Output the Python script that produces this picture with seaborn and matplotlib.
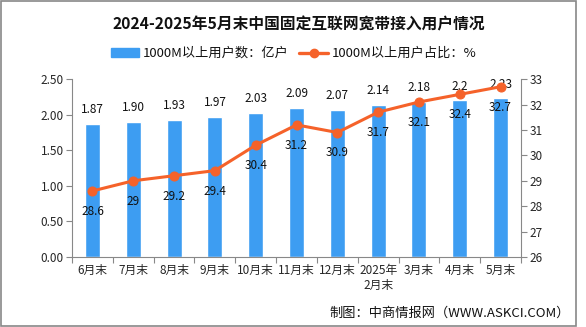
import matplotlib
matplotlib.use("Agg")
import matplotlib.pyplot as plt
import seaborn as sns
import pandas as pd
import numpy as np
from matplotlib.patches import Rectangle
from matplotlib.lines import Line2D

categories = ["6月末", "7月末", "8月末", "9月末", "10月末", "11月末", "12月末", "2025年\n2月末", "3月末", "4月末", "5月末"]
users = [1.87, 1.90, 1.93, 1.97, 2.03, 2.09, 2.07, 2.14, 2.18, 2.2, 2.23]
user_labels = ["1.87", "1.90", "1.93", "1.97", "2.03", "2.09", "2.07", "2.14", "2.18", "2.2", "2.23"]
share = [28.6, 29, 29.2, 29.4, 30.4, 31.2, 30.9, 31.7, 32.1, 32.4, 32.7]
share_labels = ["28.6", "29", "29.2", "29.4", "30.4", "31.2", "30.9", "31.7", "32.1", "32.4", "32.7"]

sns.set_theme(style="white")
plt.rcParams['font.family'] = ['Noto Sans CJK SC', 'DejaVu Sans']

BLUE = "#3d9df2"
ORANGE = "#f5622a"

fig = plt.figure(figsize=(5.86, 3.27), dpi=100)
ax = fig.add_axes([0.123, 0.214, 0.766, 0.544])

df = pd.DataFrame({"cat": categories, "users": users, "share": share})
sns.barplot(data=df, x="cat", y="users", color=BLUE, width=0.37, ax=ax, saturation=1)
ax.set_ylim(0, 2.5)
ax.set_yticks(np.arange(0, 2.51, 0.5))
ax.set_yticklabels([f"{v:.2f}" for v in np.arange(0, 2.51, 0.5)], fontsize=8.5)
ax.set_xlim(-0.5, len(categories) - 0.5)
ax.set_xlabel("")
ax.set_ylabel("")
ax.tick_params(axis="x", length=0, labelsize=8.5, pad=5)
ax.tick_params(axis="y", length=4, width=0.8, color="#888888", direction="out", left=True, pad=2)
ax.set_xticks(range(len(categories)))
ax.set_xticks(np.arange(-0.5, len(categories), 1), minor=True)
ax.tick_params(axis="x", which="minor", length=4, width=0.8, color="#888888", bottom=True)
for s in ["left", "bottom"]:
    ax.spines[s].set_color("#888888")
    ax.spines[s].set_linewidth(0.8)
ax.spines["top"].set_visible(False)
ax.spines["right"].set_visible(False)

for i, (v, lab) in enumerate(zip(users, user_labels)):
    ax.text(i, v + 0.11, lab, ha="center", va="bottom", fontsize=8.5, color="#111111")

ax2 = ax.twinx()
sns.lineplot(x=list(range(len(categories))), y=share, ax=ax2, color=ORANGE, linewidth=2.2,
             marker="o", markersize=6.5, markeredgecolor=ORANGE, legend=False)
ax2.set_ylim(26, 33)
ax2.set_yticks(range(26, 34))
ax2.tick_params(axis="y", length=4, width=0.8, color="#888888", direction="out", right=True, labelsize=8.5, pad=2)
ax2.spines["right"].set_color("#888888")
ax2.spines["right"].set_linewidth(0.8)
for s in ["left", "top", "bottom"]:
    ax2.spines[s].set_visible(False)
ax2.set_ylabel("")
for i, (v, lab) in enumerate(zip(share, share_labels)):
    ax2.annotate(lab, (i, v), xytext=(0, -10), textcoords="offset points", ha="center", va="top",
                 fontsize=8.5, color="#111111")

fig.text(0.51, 0.925, "2024-2025年5月末中国固定互联网宽带接入用户情况", ha="center", va="center",
         fontsize=11.3, fontweight="bold", color="#111111")

# legend
fig.patches.append(Rectangle((0.189, 0.826), 0.048, 0.027, transform=fig.transFigure, color=BLUE))
fig.text(0.244, 0.838, "1000M以上用户数：亿户", ha="left", va="center", fontsize=9.5, color="#111111")
fig.lines.append(Line2D([0.510, 0.560], [0.838, 0.838], transform=fig.transFigure, color=ORANGE, linewidth=2.4))
fig.lines.append(Line2D([0.535], [0.838], transform=fig.transFigure, color=ORANGE, marker="o", markersize=6))
fig.text(0.567, 0.838, "1000M以上用户占比：%", ha="left", va="center", fontsize=9.5, color="#111111")

fig.text(0.973, 0.043, "制图：中商情报网（WWW.ASKCI.COM）", ha="right", va="center", fontsize=9.5, color="#111111")

fig.patches.append(Rectangle((0.002, 0.003), 0.981, 0.994, transform=fig.transFigure, fill=False,
                             edgecolor="#888888", linewidth=1.2))

fig.savefig("out.png", dpi=100)
